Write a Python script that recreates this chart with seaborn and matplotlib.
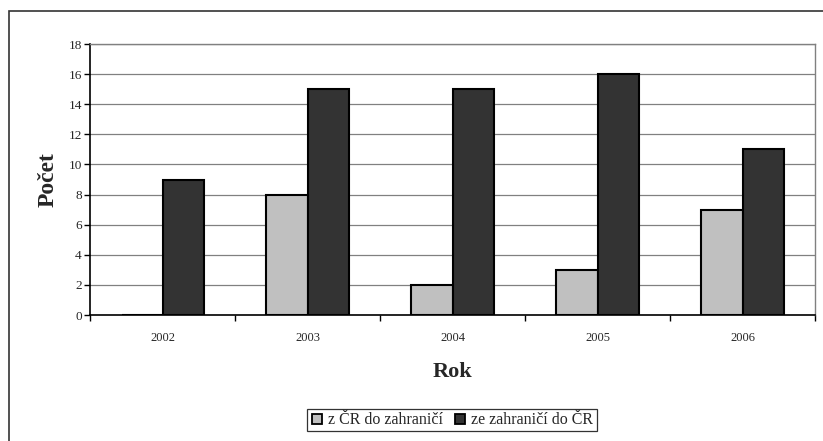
import pandas as pd
import matplotlib
matplotlib.use('Agg')
import matplotlib.pyplot as plt
import seaborn as sns
from matplotlib.patches import Rectangle
from matplotlib.lines import Line2D

# Data
years = ['2002', '2003', '2004', '2005', '2006']
series_names = ['z ČR do zahraničí', 'ze zahraničí do ČR']
out_of_cr = [0, 8, 2, 3, 7]
into_cr = [9, 15, 15, 16, 11]
colors = ['#C0C0C0', '#333333']

df = pd.DataFrame({
    'Rok': years * 2,
    'Počet': out_of_cr + into_cr,
    'Směr': [series_names[0]] * len(years) + [series_names[1]] * len(years),
})

sns.set_style('white')
plt.rcParams['font.family'] = ['Liberation Serif', 'DejaVu Serif']

fig = plt.figure(figsize=(8.23, 4.41), dpi=100)
ax = fig.add_axes([0.1094, 0.2857, 0.8809, 0.6145])

sns.barplot(data=df, x='Rok', y='Počet', hue='Směr', palette=colors,
            width=0.566, edgecolor='black', linewidth=1.5, ax=ax,
            legend=False, errorbar=None)

ax.set_ylim(0, 18)
ax.set_yticks(range(0, 19, 2))
ax.set_xlim(-0.5, len(years) - 0.5)
ax.yaxis.grid(True, color='#808080', linewidth=0.9)
ax.set_axisbelow(True)

# tick marks between categories
ax.set_xticks([i + 0.5 for i in range(-1, len(years))], minor=True)
ax.tick_params(axis='x', which='major', length=0, labelsize=9, pad=12)
ax.tick_params(axis='x', which='minor', length=4, width=1, color='black', direction='out', bottom=True)
ax.tick_params(axis='y', length=4, width=1, color='black', direction='out', left=True, labelsize=9.5, pad=2)

for side in ['top', 'right']:
    ax.spines[side].set_color('#808080')
    ax.spines[side].set_linewidth(1)
for side in ['left', 'bottom']:
    ax.spines[side].set_color('black')
    ax.spines[side].set_linewidth(1.2)

ax.set_xlabel('Rok', fontsize=16, fontweight='bold', labelpad=13)
ax.set_ylabel('Počet', fontsize=17, fontweight='bold', labelpad=7)

handles = [Line2D([], [], marker='s', linestyle='', markersize=6.5,
                  markerfacecolor=c, markeredgecolor='black', markeredgewidth=1.3)
           for c in colors]
leg = fig.legend(handles, series_names, loc='center', bbox_to_anchor=(0.549, 0.047),
                 ncol=2, fontsize=11.5, frameon=True, fancybox=False,
                 handlelength=0.8, handletextpad=0.3, columnspacing=0.7,
                 borderpad=0.2, edgecolor='black')
leg.get_frame().set_linewidth(0.9)

# outer chart border (cut off at right and bottom)
fig.patches.append(Rectangle((9 / 823, -0.1), 1.0, 0.1 + 1 - 11 / 441,
                             transform=fig.transFigure, fill=False,
                             edgecolor='#333333', linewidth=1.2))

fig.savefig('out.png', dpi=100)
